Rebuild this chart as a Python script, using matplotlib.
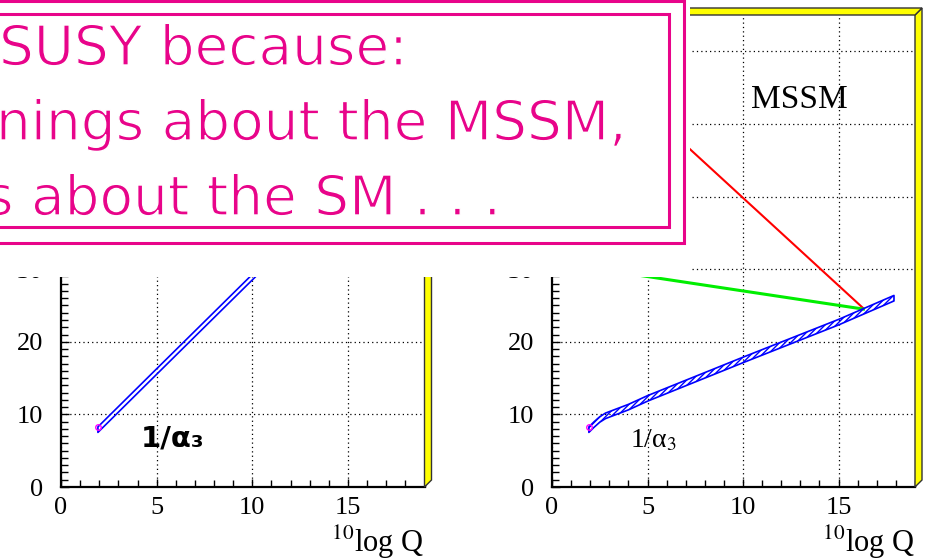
"""Gauge coupling running: SM vs MSSM slide, partly covered by a text box."""

import matplotlib

matplotlib.use("Agg")
import matplotlib.pyplot as plt
from matplotlib import patheffects
from matplotlib.patches import Polygon, Rectangle
from matplotlib.ticker import MultipleLocator

plt.rcParams["mathtext.fontset"] = "stix"
plt.rcParams["hatch.color"] = "blue"
plt.rcParams["hatch.linewidth"] = 1.0

W, H = 926, 560
PINK = "#E8048A"
SERIF = "Liberation Serif"

# ---------------------------------------------------------------------------
# Data
# ---------------------------------------------------------------------------

MZ_LOGQ = 1.93
ALPHA3_MZ = 8.26

# SM 1/alpha_3 (left panel)
SM_A3_X = [1.93, 5.0, 10.0, 12.0]
SM_A3_Y = [7.9, 15.9, 28.9, 34.1]

# MSSM 1/alpha_3 (right panel)
MSSM_A3_X = [1.93, 2.2, 2.5, 2.8, 3.2, 3.6, 4.0, 5.0, 10.0, 15.0, 17.9]
MSSM_A3_Y = [7.9, 8.6, 9.3, 9.8, 10.2, 10.6, 11.0, 12.2, 17.5, 22.7, 26.0]
A3_ERR = 0.38

# MSSM 1/alpha_1 and 1/alpha_2
MSSM_A1_X = [1.93, 16.3]
MSSM_A1_Y = [59.3, 24.6]
MSSM_A2_X = [1.93, 16.3]
MSSM_A2_Y = [30.2, 24.5]

TEXT_LINES = ["SUSY because:", "nings about the MSSM,", "s about the SM . . ."]
TEXT_X = [-1, -4, -15]
TEXT_BASE = [65, 140, 215]


def fx(px):
    return px / W


def fy(py):
    return 1 - py / H


# ---------------------------------------------------------------------------
# Panels
# ---------------------------------------------------------------------------


def _style_axes(ax):
    ax.set_xlim(0, 19)
    ax.set_ylim(0, 65)
    ax.xaxis.set_major_locator(MultipleLocator(5))
    ax.xaxis.set_minor_locator(MultipleLocator(1))
    ax.yaxis.set_major_locator(MultipleLocator(10))
    ax.yaxis.set_minor_locator(MultipleLocator(1))
    ax.tick_params(which="both", direction="in", top=False, right=False, width=1.0, color="black")
    ax.tick_params(which="major", length=5.5)
    ax.tick_params(which="minor", length=5.0)
    ax.tick_params(axis="x", pad=7, labelsize=19)
    ax.tick_params(axis="y", pad=13, labelsize=19)
    for lab in ax.get_xticklabels() + ax.get_yticklabels():
        lab.set_fontfamily(SERIF)
    ax.spines["top"].set_visible(False)
    ax.spines["right"].set_visible(False)
    ax.spines["left"].set_linewidth(1.6)
    ax.spines["bottom"].set_linewidth(1.6)
    ax.grid(True, which="major", color="black", linestyle=(0, (1, 2.5)), linewidth=0.9)
    ax.set_axisbelow(False)

    # yellow raised border on top / right of the frame
    bbox = ax.get_position()
    dx = 7 / (bbox.width * W)
    dy = 7 / (bbox.height * H)
    right = Polygon(
        [(1, 0), (1, 1), (1 + dx, 1 + dy), (1 + dx, dy)],
        closed=True, transform=ax.transAxes, clip_on=False,
        facecolor="#FFFF00", edgecolor="#333333", lw=1.0, zorder=5,
    )
    top = Polygon(
        [(0, 1), (1, 1), (1 + dx, 1 + dy), (-dx, 1 + dy)],
        closed=True, transform=ax.transAxes, clip_on=False,
        facecolor="#FFFF00", edgecolor="#333333", lw=1.0, zorder=5,
    )
    ax.add_patch(right)
    ax.add_patch(top)

    ax.text(1.0, -0.138, r"$^{10}$log Q", transform=ax.transAxes, ha="right",
            va="baseline", fontsize=22, fontfamily=SERIF)


def _band(ax, xs, ys, err, hatch):
    lo = [y - err for y in ys]
    hi = [y + err for y in ys]
    ax.fill_between(xs, lo, hi, facecolor="none", edgecolor="blue", hatch=hatch,
                    linewidth=1.2, zorder=3)


def main():
    fig = plt.figure(figsize=(W / 100, H / 100), dpi=100)
    ax_l = fig.add_axes([fx(61), fy(487), fx(424.5) - fx(61), fy(15) - fy(487)])
    ax_r = fig.add_axes([fx(552), fy(487), fx(915) - fx(552), fy(15) - fy(487)])

    # -- SM panel --
    _band(ax_l, SM_A3_X, SM_A3_Y, A3_ERR, "//")
    ax_l.plot([MZ_LOGQ], [ALPHA3_MZ], "o", mfc="none", mec="#FF00FF", ms=4, mew=1, zorder=4)
    ax_l.text(4.15, 5.6, "1/α₃", fontsize=21, fontweight="bold", fontfamily="DejaVu Sans")

    # -- MSSM panel --
    ax_r.plot(MSSM_A1_X, MSSM_A1_Y, color="#FF0000", lw=1.5, zorder=3)
    ax_r.plot(MSSM_A2_X, MSSM_A2_Y, color="#00EE00", lw=2.2, zorder=3)
    _band(ax_r, MSSM_A3_X, MSSM_A3_Y, A3_ERR, "//////")
    ax_r.plot([MZ_LOGQ], [ALPHA3_MZ], "o", mfc="none", mec="#FF00FF", ms=4, mew=1, zorder=4)
    ax_r.text(4.1, 5.5, r"1/α$_3$", fontsize=20, fontfamily=SERIF)
    ax_r.text(12.96, 52.2, "MSSM", fontsize=24, fontfamily=SERIF, ha="center")

    for ax in (ax_l, ax_r):
        _style_axes(ax)

    # -- white overlay with the pink text box --
    fig.patches.append(Rectangle((0, fy(276.5)), fx(690), 1 - fy(276.5),
                                 transform=fig.transFigure, facecolor="white",
                                 edgecolor="none", zorder=10))
    for left, top, right, bottom in [(-10, 1, 684, 243), (-10, 14, 669, 227)]:
        fig.patches.append(Rectangle((fx(left), fy(bottom)), fx(right) - fx(left),
                                     fy(top) - fy(bottom), transform=fig.transFigure,
                                     facecolor="none", edgecolor=PINK, lw=2.2, zorder=11))
    thin = [patheffects.Stroke(linewidth=1.0, foreground="white")]
    for line, x, base in zip(TEXT_LINES, TEXT_X, TEXT_BASE):
        fig.text(fx(x), fy(base), line, color=PINK, fontsize=39.5, fontfamily="DejaVu Sans",
                 ha="left", va="baseline", zorder=12, path_effects=thin)

    fig.savefig("out.png", dpi=100)
    plt.close(fig)


if __name__ == "__main__":
    main()
